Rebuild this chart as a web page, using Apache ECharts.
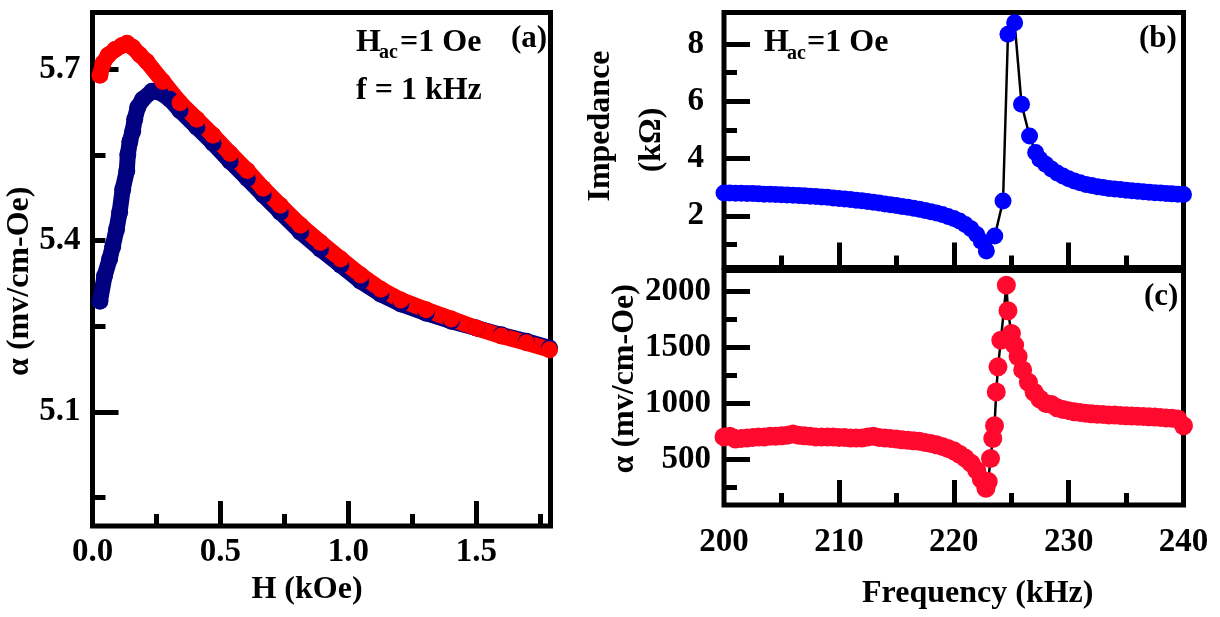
<!DOCTYPE html>
<html>
<head>
<meta charset="utf-8">
<script src="https://cdn.jsdelivr.net/npm/echarts@6/dist/echarts.min.js"></script>
<style>
  html, body { margin: 0; padding: 0; background: #fff; }
  #chart { width: 1220px; height: 617px; }
</style>
</head>
<body>
<div id="chart"></div>
<script>
// ---- (a) ME coefficient vs bias field, f = 1 kHz ----
const fieldBlue = [0.029, 0.047, 0.067, 0.079, 0.094, 0.106, 0.118, 0.134, 0.138, 0.146, 0.157, 0.165, 0.177, 0.196, 0.232,
  0.263, 0.302, 0.342, 0.408, 0.471, 0.538, 0.605, 0.667, 0.734, 0.813, 0.891, 0.970, 1.048, 1.127, 1.205, 1.304, 1.402,
  1.500, 1.598, 1.696, 1.786];
const alphaBlue = [5.294, 5.338, 5.368, 5.390, 5.420, 5.450, 5.490, 5.522, 5.551, 5.574, 5.592, 5.613, 5.634, 5.648, 5.662,
  5.660, 5.648, 5.628, 5.599, 5.571, 5.539, 5.509, 5.480, 5.450, 5.415, 5.385, 5.357, 5.329, 5.306, 5.289, 5.273, 5.259,
  5.247, 5.235, 5.224, 5.212];
const fieldRed = [0.029, 0.041, 0.061, 0.088, 0.115, 0.135, 0.157, 0.185, 0.212, 0.275, 0.342, 0.408, 0.471, 0.538, 0.605,
  0.667, 0.734, 0.813, 0.891, 0.970, 1.048, 1.127, 1.205, 1.304, 1.402, 1.500, 1.598, 1.696, 1.786];
const alphaRed = [5.690, 5.711, 5.725, 5.735, 5.742, 5.746, 5.739, 5.726, 5.714, 5.679, 5.642, 5.613, 5.585, 5.553, 5.523,
  5.492, 5.462, 5.427, 5.397, 5.368, 5.340, 5.315, 5.296, 5.279, 5.263, 5.247, 5.233, 5.221, 5.209];

// ---- (b) impedance vs frequency ----
const freqImp = [200, 200.5, 201, 201.5, 202, 202.5, 203, 203.5, 204, 204.5, 205, 205.5, 206, 206.5, 207, 207.5, 208, 208.5,
  209, 209.5, 210, 210.5, 211, 211.5, 212, 212.5, 213, 213.5, 214, 214.5, 215, 215.5, 216, 216.5, 217, 217.5, 218, 218.5,
  219, 219.5, 220, 220.5, 221, 221.5, 222, 222.4, 222.84, 223.57, 224.29, 224.72, 225.3, 225.9, 226.6, 227.13, 227.5, 228,
  228.5, 229, 229.5, 230, 230.5, 231, 231.5, 232, 232.5, 233, 233.5, 234, 234.5, 235, 235.5, 236, 236.5, 237, 237.5, 238,
  238.5, 239, 239.5, 240];
const impedance = [2.80, 2.80, 2.79, 2.79, 2.78, 2.78, 2.77, 2.76, 2.76, 2.75, 2.74, 2.73, 2.72, 2.71, 2.70, 2.69, 2.68, 2.66,
  2.65, 2.63, 2.61, 2.59, 2.57, 2.55, 2.53, 2.50, 2.48, 2.45, 2.42, 2.39, 2.36, 2.33, 2.30, 2.27, 2.23, 2.19, 2.15, 2.10,
  2.05, 1.98, 1.91, 1.82, 1.70, 1.55, 1.35, 1.12, 0.78, 1.30, 2.52, 8.34, 8.74, 5.90, 4.79, 4.21, 3.98, 3.80,
  3.64, 3.50, 3.39, 3.30, 3.22, 3.16, 3.10, 3.06, 3.02, 2.99, 2.96, 2.94, 2.92, 2.90, 2.88, 2.86, 2.84, 2.83, 2.81, 2.80,
  2.78, 2.77, 2.76, 2.75];

// ---- (c) ME coefficient vs frequency ----
const freqME = [200, 200.5, 201, 201.5, 202, 202.5, 203, 203.5, 204, 204.5, 205, 205.5, 206, 206.5, 207, 207.5, 208, 208.5,
  209, 209.5, 210, 210.5, 211, 211.5, 212, 212.5, 213, 213.5, 214, 214.5, 215, 215.5, 216, 216.5, 217, 217.5, 218, 218.5,
  219, 219.5, 220, 220.5, 221, 221.5, 222, 222.4, 222.8, 223.0, 223.2, 223.4, 223.55, 223.7, 223.85, 224.1, 224.58, 224.72,
  225.02, 225.3, 225.6, 226, 226.5, 227, 227.5, 228, 228.5, 229, 229.5, 230, 230.5, 231, 231.5, 232, 232.5, 233, 233.5,
  234, 234.5, 235, 235.5, 236, 236.5, 237, 237.5, 238, 238.5, 239, 239.5, 240];
const alphaME = [700, 705, 680, 685, 690, 695, 700, 700, 705, 705, 710, 715, 725, 715, 710, 705, 700, 700,
  700, 700, 695, 695, 690, 690, 690, 700, 705, 695, 690, 685, 680, 675, 670, 665, 660, 650, 640, 630,
  615, 595, 575, 545, 510, 465, 400, 320, 240, 300, 506, 685, 800, 1103, 1327, 1566, 2059, 1830,
  1626, 1522, 1420, 1300, 1190, 1100, 1040, 1000, 990, 960, 945, 935, 925, 918, 912, 907, 903, 900, 897,
  895, 892, 890, 888, 885, 882, 880, 877, 874, 870, 866, 860, 800];

// ---- tick positions and labels ----
const hMajorTicks = [0.5, 1.0, 1.5];
const hMinorTicks = [0.25, 0.75, 1.25, 1.75];
const hLabels = [0, 0.5, 1.0, 1.5];
const aMajorTicks = [5.1, 5.7];
const aMinorTicks = [4.95, 5.25, 5.4, 5.55];
const aLabels = [5.1, 5.4, 5.7];
const fMajorTicks = [210, 220, 230];
const fMinorTicks = [205, 215, 225, 235];
const fLabels = [200, 210, 220, 230, 240];
const zMajorTicks = [2, 4, 6, 8];
const zMinorTicks = [1, 3, 5, 7];
const meMajorTicks = [500, 1000, 1500, 2000];
const meMinorTicks = [250, 750, 1250, 1750];

const FONT = '"Liberation Serif", "Times New Roman", serif';
const zip = (xs, ys) => xs.map((x, i) => [x, ys[i]]);
const plain = v => String(v);

const labelStyle = { fontFamily: FONT, fontWeight: 'bold', fontSize: 33, color: '#000' };
const nameStyle = { fontFamily: FONT, fontWeight: 'bold', fontSize: 32, color: '#000' };

function axis(gridIndex, position, min, max, ticks, len, extra) {
  return Object.assign({
    type: 'value', gridIndex, position, min, max,
    splitLine: { show: false },
    axisLine: { show: false },
    axisTick: { show: true, inside: true, length: len, lineStyle: { color: '#000', width: 5 }, customValues: ticks },
    axisLabel: { show: false }
  }, extra || {});
}

const grids = [
  { left: 92.5, top: 12.5, width: 458, height: 513.5 },
  { left: 724, top: 12.5, width: 459.5, height: 255 },
  { left: 724, top: 270.5, width: 459.5, height: 234.5 }
].map(g => Object.assign(g, { show: true, borderColor: '#000', borderWidth: 5, backgroundColor: 'transparent' }));

const xAxes = [
  axis(0, 'bottom', 0, 1.79, hMajorTicks, 25, {
    axisLabel: Object.assign({ show: true, customValues: hLabels, margin: 10, formatter: v => v.toFixed(1) }, labelStyle),
    name: 'H (kOe)', nameLocation: 'middle', nameGap: 48,
    nameTextStyle: Object.assign({ padding: [0, 29, 0, 0] }, nameStyle)
  }),
  axis(0, 'bottom', 0, 1.79, hMinorTicks, 12),
  axis(1, 'bottom', 200, 240, fMajorTicks, 25),
  axis(1, 'bottom', 200, 240, fMinorTicks, 12),
  axis(2, 'bottom', 200, 240, fMajorTicks, 25, {
    axisLabel: Object.assign({ show: true, customValues: fLabels, margin: 21, formatter: plain }, labelStyle),
    name: 'Frequency (kHz)', nameLocation: 'middle', nameGap: 73,
    nameTextStyle: Object.assign({ padding: [0, 0, 0, 48] }, nameStyle)
  }),
  axis(2, 'bottom', 200, 240, fMinorTicks, 12)
];

const yAxes = [
  axis(0, 'left', 4.9, 5.8, aMajorTicks, 26, {
    axisLabel: Object.assign({ show: true, customValues: aLabels, margin: 12, formatter: v => v.toFixed(1) }, labelStyle),
    name: 'α (mv/cm-Oe)', nameLocation: 'middle', nameGap: 47,
    nameTextStyle: Object.assign({ padding: [0, 24, 0, 0] }, nameStyle)
  }),
  axis(0, 'left', 4.9, 5.8, aMinorTicks, 13),
  axis(1, 'left', 0.2, 9.1, zMajorTicks, 26, {
    axisLabel: Object.assign({ show: true, customValues: zMajorTicks, margin: 20, formatter: plain }, labelStyle),
    name: '{a|Impedance}\n{b|(kΩ)}', nameLocation: 'middle', nameGap: 47,
    nameTextStyle: Object.assign({
      lineHeight: 51,
      rich: {
        a: Object.assign({ lineHeight: 51, padding: [0, 0, 0, 28] }, nameStyle),
        b: Object.assign({ lineHeight: 51 }, nameStyle)
      }
    }, nameStyle)
  }),
  axis(1, 'left', 0.2, 9.1, zMinorTicks, 13),
  axis(2, 'left', 90, 2190, meMajorTicks, 26, {
    axisLabel: Object.assign({ show: true, customValues: meMajorTicks, margin: 13, formatter: plain }, labelStyle),
    name: 'α (mv/cm-Oe)', nameLocation: 'middle', nameGap: 83,
    nameTextStyle: Object.assign({ padding: [0, 0, 0, 18] }, nameStyle)
  }),
  axis(2, 'left', 90, 2190, meMinorTicks, 13)
];

function bandSeries(name, data, color, width) {
  return {
    name, type: 'line', xAxisIndex: 0, yAxisIndex: 0, data,
    symbol: 'circle', symbolSize: 17, showSymbol: true,
    itemStyle: { color },
    lineStyle: { color, width, cap: 'round', join: 'round' },
    emphasis: { disabled: true }, silent: true
  };
}

function dotSeries(name, axisIdx, data, color, size) {
  return {
    name, type: 'line', xAxisIndex: axisIdx, yAxisIndex: axisIdx, data,
    symbol: 'circle', symbolSize: size, showSymbol: true,
    itemStyle: { color },
    lineStyle: { color: '#000', width: 2.5 },
    emphasis: { disabled: true }, silent: true
  };
}

function txt(text, x, y, size) {
  return {
    type: 'text', x, y, silent: true,
    style: {
      text, fill: '#000',
      font: 'bold ' + size + 'px ' + FONT,
      textAlign: 'left', textVerticalAlign: 'middle', align: 'left', verticalAlign: 'middle'
    }
  };
}

const chart = echarts.init(document.getElementById('chart'), null, { renderer: 'canvas' });
chart.setOption({
  animation: false,
  backgroundColor: '#fff',
  grid: grids,
  xAxis: xAxes,
  yAxis: yAxes,
  series: [
    bandSeries('increasing field', zip(fieldBlue, alphaBlue), '#000080', 16),
    bandSeries('decreasing field', zip(fieldRed, alphaRed), '#ff0000', 16),
    dotSeries('impedance', 2, zip(freqImp, impedance), '#0000ff', 17),
    dotSeries('ME coefficient', 4, zip(freqME, alphaME), '#ff0a2e', 19)
  ],
  graphic: [
    txt('H', 356, 42.5, 32), txt('ac', 379, 53, 20), txt('=1 Oe', 400, 42.5, 32),
    txt('f = 1 kHz', 356, 91, 32),
    txt('(a)', 511, 39, 31),
    txt('H', 764, 43, 32), txt('ac', 787, 54, 20), txt('=1 Oe', 807, 43, 32),
    txt('(b)', 1139, 38.5, 31),
    txt('(c)', 1144, 296.5, 31)
  ]
});
</script>
</body>
</html>
